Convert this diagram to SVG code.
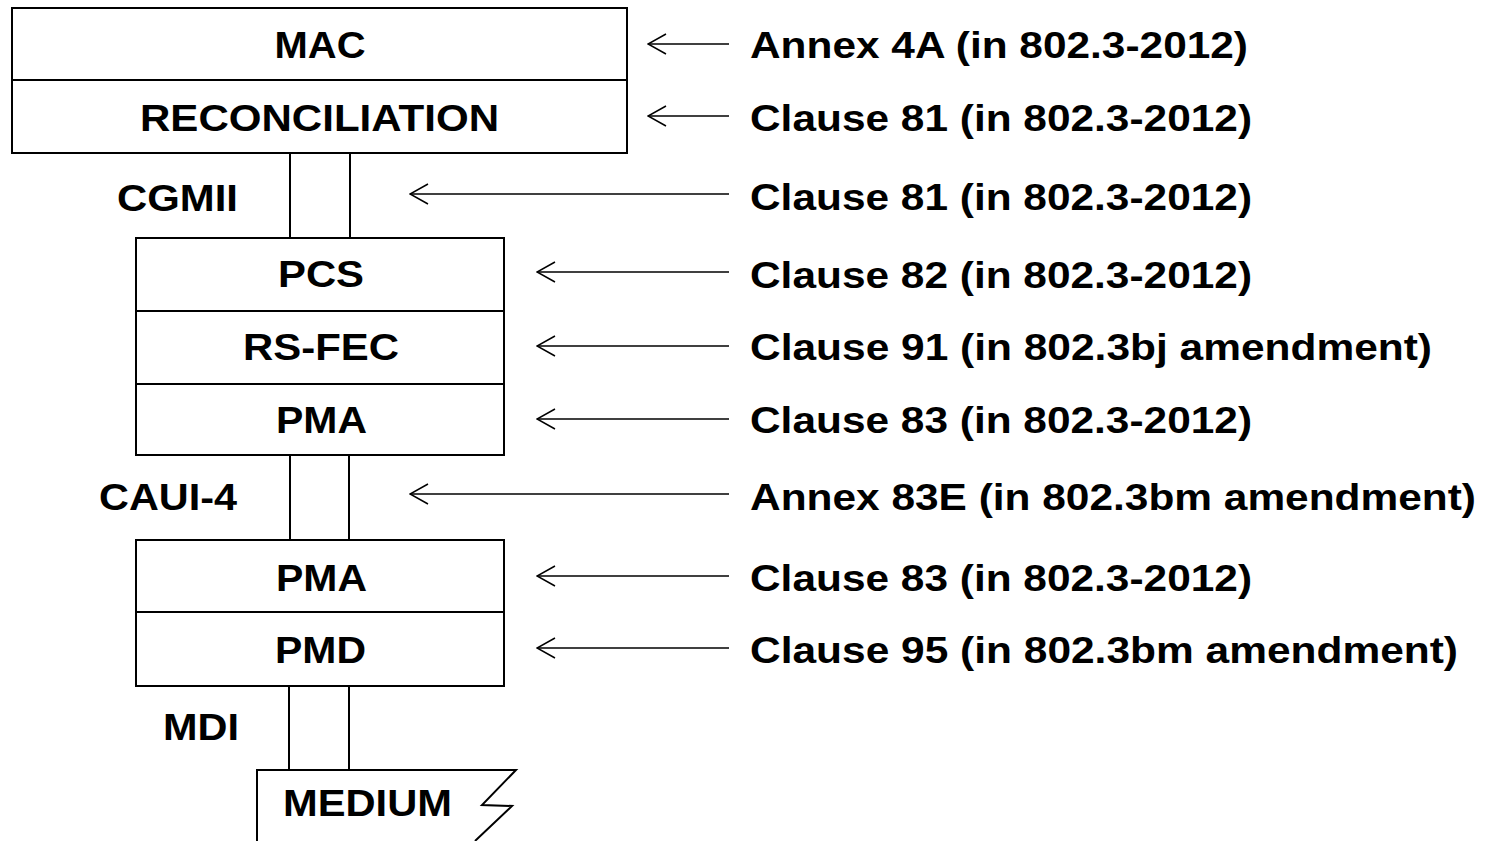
<svg xmlns="http://www.w3.org/2000/svg" width="1487" height="841" viewBox="0 0 1487 841">
<style>
text{font-family:"Liberation Sans",Arial,sans-serif;font-weight:bold;font-size:37px;fill:#000}
.c{text-anchor:middle}
.r{text-anchor:end}
.box{fill:#fff;stroke:#000;stroke-width:2}
.ln{fill:none;stroke:#000;stroke-width:2}
.ar{fill:none;stroke:#000;stroke-width:1.5}
</style>
<defs>
<marker id="ah" viewBox="0 0 20 22" refX="19" refY="11" markerWidth="20" markerHeight="22" markerUnits="userSpaceOnUse" orient="auto">
<path d="M1,1 L19,11 L1,21" fill="none" stroke="#000" stroke-width="1.5"/>
</marker>
</defs>
<rect width="1487" height="841" fill="#fff"/>

<g id="connectors">
<path class="ln" d="M290,153 V238 M350,153 V238"/>
<path class="ln" d="M290,455 V540 M349,455 V540"/>
<path class="ln" d="M289,686 V770 M349,686 V770"/>
<line class="ar" x1="729" y1="44" x2="648" y2="44" marker-end="url(#ah)"/>
<line class="ar" x1="729" y1="116" x2="648" y2="116" marker-end="url(#ah)"/>
<line class="ar" x1="729" y1="194" x2="410" y2="194" marker-end="url(#ah)"/>
<line class="ar" x1="729" y1="272" x2="537" y2="272" marker-end="url(#ah)"/>
<line class="ar" x1="729" y1="346" x2="537" y2="346" marker-end="url(#ah)"/>
<line class="ar" x1="729" y1="419" x2="537" y2="419" marker-end="url(#ah)"/>
<line class="ar" x1="729" y1="494" x2="410" y2="494" marker-end="url(#ah)"/>
<line class="ar" x1="729" y1="576" x2="537" y2="576" marker-end="url(#ah)"/>
<line class="ar" x1="729" y1="648" x2="537" y2="648" marker-end="url(#ah)"/>
</g>

<g id="mac-rs">
<rect class="box" x="12" y="8" width="615" height="145"/>
<line class="ln" x1="12" y1="80" x2="627" y2="80"/>
<text class="c" x="320" y="58" textLength="91" lengthAdjust="spacingAndGlyphs">MAC</text>
<text class="c" x="319.5" y="131" textLength="359" lengthAdjust="spacingAndGlyphs">RECONCILIATION</text>
</g>

<g id="pcs-fec-pma">
<rect class="box" x="136" y="238" width="368" height="217"/>
<line class="ln" x1="136" y1="311" x2="504" y2="311"/>
<line class="ln" x1="136" y1="384" x2="504" y2="384"/>
<text class="c" x="321" y="287" textLength="86" lengthAdjust="spacingAndGlyphs">PCS</text>
<text class="c" x="321" y="360" textLength="156" lengthAdjust="spacingAndGlyphs">RS-FEC</text>
<text class="c" x="321.5" y="433" textLength="91" lengthAdjust="spacingAndGlyphs">PMA</text>
</g>

<g id="pma-pmd">
<rect class="box" x="136" y="540" width="368" height="146"/>
<line class="ln" x1="136" y1="612" x2="504" y2="612"/>
<text class="c" x="321.5" y="591" textLength="91" lengthAdjust="spacingAndGlyphs">PMA</text>
<text class="c" x="320.5" y="663" textLength="91" lengthAdjust="spacingAndGlyphs">PMD</text>
</g>

<g id="medium">
<path class="ln" d="M257,841 V770 H516 L482,805 L512,806 L475,841"/>
<text class="c" x="367.5" y="816" textLength="169" lengthAdjust="spacingAndGlyphs">MEDIUM</text>
</g>

<g id="interfaces">
<text class="r" x="238" y="211" textLength="121" lengthAdjust="spacingAndGlyphs">CGMII</text>
<text class="r" x="237" y="510" textLength="138" lengthAdjust="spacingAndGlyphs">CAUI-4</text>
<text class="r" x="239" y="740" textLength="76" lengthAdjust="spacingAndGlyphs">MDI</text>
</g>

<g id="references">
<text x="750" y="58" textLength="498" lengthAdjust="spacingAndGlyphs">Annex 4A (in 802.3-2012)</text>
<text x="750" y="131" textLength="502" lengthAdjust="spacingAndGlyphs">Clause 81 (in 802.3-2012)</text>
<text x="750" y="210" textLength="502" lengthAdjust="spacingAndGlyphs">Clause 81 (in 802.3-2012)</text>
<text x="750" y="288" textLength="502" lengthAdjust="spacingAndGlyphs">Clause 82 (in 802.3-2012)</text>
<text x="750" y="360" textLength="682" lengthAdjust="spacingAndGlyphs">Clause 91 (in 802.3bj amendment)</text>
<text x="750" y="433" textLength="502" lengthAdjust="spacingAndGlyphs">Clause 83 (in 802.3-2012)</text>
<text x="750" y="510" textLength="726" lengthAdjust="spacingAndGlyphs">Annex 83E (in 802.3bm amendment)</text>
<text x="750" y="591" textLength="502" lengthAdjust="spacingAndGlyphs">Clause 83 (in 802.3-2012)</text>
<text x="750" y="663" textLength="708" lengthAdjust="spacingAndGlyphs">Clause 95 (in 802.3bm amendment)</text>
</g>
</svg>
